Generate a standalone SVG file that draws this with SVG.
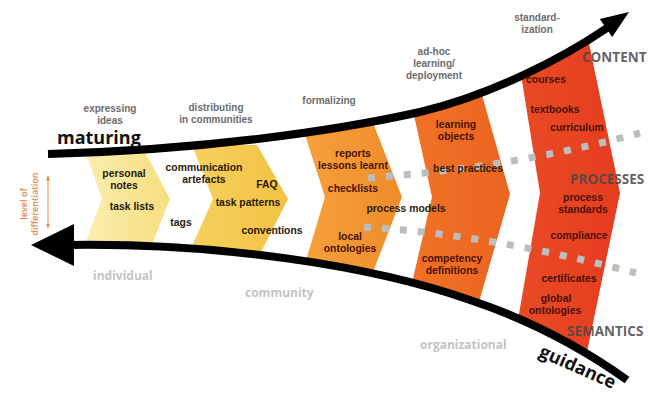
<svg xmlns="http://www.w3.org/2000/svg" width="649" height="396" viewBox="0 0 649 396">
  <style>
    text { font-family: "Liberation Sans", Arial, sans-serif; }
    .stage { font-size: 10px; font-weight: 700; fill: #6c6c6c; text-anchor: middle; }
    .item { font-size: 10.4px; font-weight: 700; fill: #2a1a0a; text-anchor: middle; }
    .item2 { font-size: 10.4px; font-weight: 700; fill: #4a1208; text-anchor: middle; }
    .axis { font-family: "Open Sans", "Liberation Sans", sans-serif; font-size: 13.5px; font-weight: 700; fill: #474747; fill-opacity: 0.85; }
    .scope { font-family: "Open Sans", "Liberation Sans", sans-serif; font-size: 12px; font-weight: 700; fill: #c4c4c4; }
    .big { font-family: "Open Sans", "Liberation Sans", sans-serif; font-size: 18px; font-weight: 700; fill: #111; }
    .diff { font-family: "Open Sans", "Liberation Sans", sans-serif; font-size: 9px; font-weight: 600; fill: #e08a4c; text-anchor: middle; }
    .curve { fill: none; stroke: #000; stroke-width: 8; }
    .dots { fill: none; stroke: #bdbdbd; stroke-width: 7; stroke-dasharray: 7 11; }
  </style>
  <defs>
    <linearGradient id="g1" x1="0" y1="0" x2="1" y2="0">
      <stop offset="0" stop-color="#faeeb4"/><stop offset="1" stop-color="#f7df7e"/>
    </linearGradient>
    <linearGradient id="g2" x1="0" y1="0" x2="1" y2="0">
      <stop offset="0" stop-color="#f6d160"/><stop offset="1" stop-color="#f3c243"/>
    </linearGradient>
    <linearGradient id="g3" x1="0" y1="0" x2="1" y2="0">
      <stop offset="0" stop-color="#f5a23c"/><stop offset="1" stop-color="#f08c2a"/>
    </linearGradient>
    <linearGradient id="g4" x1="0" y1="0" x2="1" y2="0">
      <stop offset="0" stop-color="#f07426"/><stop offset="1" stop-color="#ec6420"/>
    </linearGradient>
    <linearGradient id="g5" x1="0" y1="0" x2="1" y2="0">
      <stop offset="0" stop-color="#e94c27"/><stop offset="1" stop-color="#e63c1f"/>
    </linearGradient>
    <!-- area between the two sweeping curves -->
    <clipPath id="funnel">
      <path d="M48,154 C200,150 330,132 420,112 C490,95 560,60 603,30 L640,30 L640,380 L627,380 C585,350 530,320 470,300 C370,265 220,243 70,245 Z"/>
    </clipPath>
    <marker id="oa" viewBox="0 0 10 10" refX="9" refY="5" markerWidth="5" markerHeight="5" orient="auto-start-reverse">
      <path d="M0,1 L10,5 L0,9 Z" fill="#e08a4c"/>
    </marker>
  </defs>

  <rect width="649" height="396" fill="#fff"/>

  <!-- stage bands -->
  <g clip-path="url(#funnel)">
    <g id="band-individual"><polygon points="84,148 143,148 170,199 145,262 78,262 102,199" fill="url(#g1)"/></g>
    <g id="band-community"><polygon points="192,145 257,145 288,199 256,262 185,262 213,199" fill="url(#g2)"/></g>
    <g id="band-formalizing"><polygon points="297,110 368,110 402,197 366,290 297,290 325,197" fill="url(#g3)"/></g>
    <g id="band-adhoc"><polygon points="404,70 475,70 510,194 471,330 401,330 432,197" fill="url(#g4)"/></g>
    <g id="band-standardization"><polygon points="509,0 580,0 620,193 577,400 504,400 540,193" fill="url(#g5)"/></g>
  </g>

  <!-- dotted boundaries between content / processes / semantics -->
  <g id="connectors">
    <path class="dots" d="M368,178 C450,172 540,160 640,133"/>
    <path class="dots" d="M364,227 C450,232 540,248 636,273"/>

    <!-- maturing curve -->
    <path class="curve" d="M48,154 C200,150 330,132 420,112 C490,95 560,60 607,28"/>
    <polygon points="599.8,18.9 629,12 612.2,37.1" fill="#000"/>
    <!-- guidance curve -->
    <path class="curve" d="M627,380 C585,350 530,320 470,300 C370,265 220,243 68,245"/>
    <polygon points="31,245 74,224 74,266" fill="#000"/>

    <!-- level of differentiation -->
    <line x1="48" y1="176" x2="48" y2="228" stroke="#e08a4c" stroke-width="1" marker-start="url(#oa)" marker-end="url(#oa)"/>
  </g>

  <g id="axis-labels">
    <text class="big" x="57" y="144">maturing</text>
    <text class="big" x="538" y="356" font-size="16" transform="rotate(24 538 356)">guidance</text>
    <text class="axis" x="582" y="62">CONTENT</text>
    <text class="axis" x="570" y="184">PROCESSES</text>
    <text class="axis" x="567" y="336">SEMANTICS</text>
    <text class="scope" x="93" y="280">individual</text>
    <text class="scope" x="245" y="297">community</text>
    <text class="scope" x="420" y="349">organizational</text>
    <text class="diff" transform="translate(27,204) rotate(-90)">level of</text>
    <text class="diff" transform="translate(38,204) rotate(-90)">differentiation</text>
  </g>

  <g id="stage-labels">
    <text class="stage" x="110" y="112">expressing</text>
    <text class="stage" x="110" y="124">ideas</text>
    <text class="stage" x="216" y="111">distributing</text>
    <text class="stage" x="216" y="123">in communities</text>
    <text class="stage" x="329" y="104">formalizing</text>
    <text class="stage" x="434" y="55">ad-hoc</text>
    <text class="stage" x="434" y="67">learning/</text>
    <text class="stage" x="434" y="79">deployment</text>
    <text class="stage" x="537" y="21">standard-</text>
    <text class="stage" x="537" y="33">ization</text>
  </g>

  <g id="items-individual">
    <text class="item" x="124" y="177">personal</text>
    <text class="item" x="124" y="189">notes</text>
    <text class="item" x="132" y="210">task lists</text>
  </g>
  <g id="items-community">
    <text class="item" x="204" y="171">communication</text>
    <text class="item" x="204" y="183">artefacts</text>
    <text class="item" x="267" y="188">FAQ</text>
    <text class="item" x="248" y="206">task patterns</text>
    <text class="item" x="181" y="226">tags</text>
    <text class="item" x="272" y="234">conventions</text>
  </g>
  <g id="items-formalizing">
    <text class="item2" x="353" y="157">reports</text>
    <text class="item2" x="353" y="169">lessons learnt</text>
    <text class="item2" x="353" y="192">checklists</text>
    <text class="item" x="406" y="212">process models</text>
    <text class="item2" x="350" y="240">local</text>
    <text class="item2" x="350" y="252">ontologies</text>
  </g>
  <g id="items-adhoc">
    <text class="item2" x="456" y="128">learning</text>
    <text class="item2" x="456" y="140">objects</text>
    <text class="item" x="468" y="172">best practices</text>
    <text class="item2" x="452" y="262">competency</text>
    <text class="item2" x="452" y="274">definitions</text>
  </g>
  <g id="items-standardization">
    <text class="item2" x="546" y="83">courses</text>
    <text class="item2" x="555" y="113">textbooks</text>
    <text class="item2" x="577" y="131">curriculum</text>
    <text class="item2" x="583" y="201">process</text>
    <text class="item2" x="583" y="213">standards</text>
    <text class="item2" x="579" y="239">compliance</text>
    <text class="item2" x="569" y="282">certificates</text>
    <text class="item2" x="556" y="302">global</text>
    <text class="item2" x="555" y="314">ontologies</text>
  </g>
</svg>
